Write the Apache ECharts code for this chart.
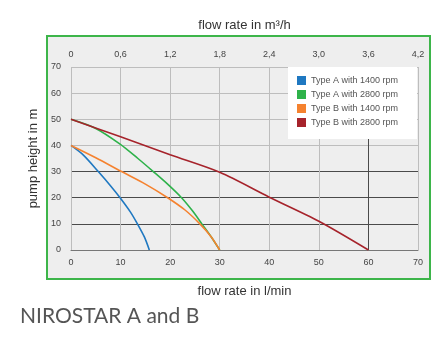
<!DOCTYPE html>
<html>
<head>
<meta charset="utf-8">
<script src="https://cdn.jsdelivr.net/npm/echarts@6/dist/echarts.min.js"></script>
<style>html,body{margin:0;padding:0;background:#fff;}#c{width:442px;height:339px;}</style>
</head>
<body>
<div id="c"></div>
<script>
// Data (flow rate in l/min, pump height in m)
var seriesNames = ['Type A with 1400 rpm', 'Type A with 2800 rpm', 'Type B with 1400 rpm', 'Type B with 2800 rpm'];
var typeA1400 = [[0,40],[2.5,36.3],[5.5,30],[8,24.5],[9.9,20],[12,14.5],[13.4,10],[14.8,5],[15.8,0]];
var typeA2800 = [[0,50],[5,46.5],[9.9,40.5],[13.5,35],[16.6,30],[19.6,25],[22.3,20],[24.5,15],[26.4,10],[28.3,5],[30,0]];
var typeB1400 = [[0,40],[5,35.3],[10.2,30],[15,25.2],[19.5,20],[23,15.3],[26,10],[28.3,5],[30,0]];
var typeB2800 = [[0,50],[10,43.3],[20,36.4],[30,29.7],[40,20.2],[50,11],[60,0]];
var topTickLabels = ['0','0,6','1,2','1,8','2,4','3,0','3,6','4,2'];
var colors = ['#1f78c1', '#2eb24a', '#f5822f', '#a6232b'];

var chart = echarts.init(document.getElementById('c'));
var lab = {fontFamily: 'Liberation Sans', fontSize: 9, color: '#444'};
var nameStyle = {fontFamily: 'Liberation Sans', fontSize: 13, color: '#333'};
var light = '#bdbdbd', dark = '#4a4a4a';
chart.setOption({
  animation: false,
  color: colors,
  graphic: [
    {type: 'rect', z: -10, shape: {x: 47, y: 36, width: 383, height: 243},
     style: {fill: '#eeeeee', stroke: '#3db54a', lineWidth: 2}},
    {type: 'text', left: 20, top: 306, style: {text: 'NIROSTAR A and B', font: '21px Lato', fill: '#555'}}
  ],
  grid: {left: 71, right: 24, top: 67, bottom: 89, containLabel: false},
  legend: {
    data: seriesNames, orient: 'vertical', left: 288, top: 67,
    backgroundColor: '#fff', padding: [9, 19, 12, 9],
    icon: 'rect', itemWidth: 9, itemHeight: 9, itemGap: 5,
    textStyle: {fontFamily: 'Liberation Sans', fontSize: 9, color: '#555'}
  },
  xAxis: [
    {type: 'value', position: 'bottom', min: 0, max: 70, interval: 10,
     name: 'flow rate in l/min', nameLocation: 'middle', nameGap: 35, nameTextStyle: nameStyle,
     axisLine: {show: true, lineStyle: {color: '#777', width: 1}}, axisTick: {show: false},
     axisLabel: Object.assign({margin: 8}, lab),
     splitLine: {show: true, lineStyle: {color: [light, light, light, light, light, light, dark, light], width: 1}}},
    {type: 'value', position: 'top', min: 0, max: 70, interval: 10,
     name: 'flow rate in m³/h', nameLocation: 'middle', nameGap: 35, nameTextStyle: nameStyle,
     axisLine: {show: false}, axisTick: {show: false}, splitLine: {show: false},
     axisLabel: Object.assign({margin: 8, formatter: function (v) { return topTickLabels[Math.round(v / 10)]; }}, lab)}
  ],
  yAxis: {
    type: 'value', min: 0, max: 70, interval: 10,
    name: 'pump height in m', nameLocation: 'middle', nameGap: 27, nameTextStyle: nameStyle,
    axisLine: {show: false}, axisTick: {show: false},
    axisLabel: Object.assign({margin: 10}, lab),
    splitLine: {show: true, lineStyle: {color: ['#777', dark, dark, dark, light, light, light, light], width: 1}}
  },
  series: [
    {name: seriesNames[0], type: 'line', data: typeA1400, smooth: 0.3, showSymbol: false, lineStyle: {width: 1.6}},
    {name: seriesNames[1], type: 'line', data: typeA2800, smooth: 0.3, showSymbol: false, lineStyle: {width: 1.6}},
    {name: seriesNames[2], type: 'line', data: typeB1400, smooth: 0.3, showSymbol: false, lineStyle: {width: 1.6}},
    {name: seriesNames[3], type: 'line', data: typeB2800, smooth: 0.3, showSymbol: false, lineStyle: {width: 1.6}}
  ]
});
</script>
</body>
</html>
